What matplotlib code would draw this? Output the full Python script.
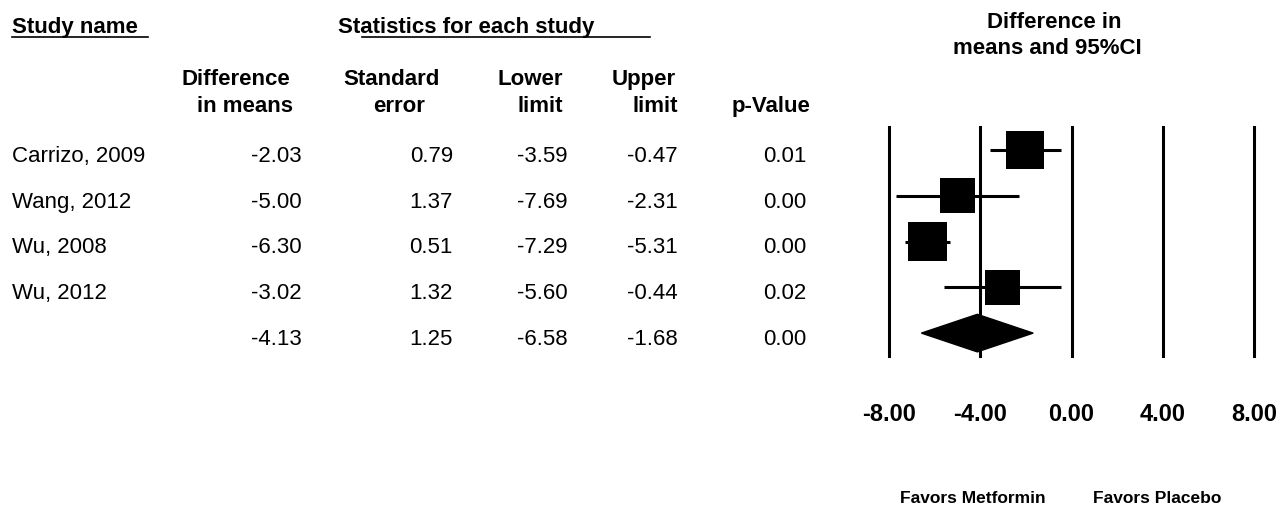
import matplotlib
matplotlib.use("Agg")
import matplotlib.pyplot as plt
import matplotlib.transforms as mtransforms
from matplotlib.lines import Line2D
from matplotlib.patches import Polygon
import numpy as np

plt.rcParams["font.family"] = ["Liberation Sans", "DejaVu Sans"]

# data
studies = ["Carrizo, 2009", "Wang, 2012", "Wu, 2008", "Wu, 2012"]
diff = [-2.03, -5.00, -6.30, -3.02]
se = [0.79, 1.37, 0.51, 1.32]
lower = [-3.59, -7.69, -7.29, -5.60]
upper = [-0.47, -2.31, -5.31, -0.44]
pval = [0.01, 0.00, 0.00, 0.02]

pooled_diff = -4.13
pooled_se = 1.25
pooled_lower = -6.58
pooled_upper = -1.68
pooled_p = 0.00

ticks = [-8, -4, 0, 4, 8]
tick_labels = ["-8.00", "-4.00", "0.00", "4.00", "8.00"]

W, H = 1284, 506


def fx(px):
    return px / W


def fy(py):
    return 1 - py / H


# random effects weights (DerSimonian-Laird) -> box sizes
y = np.array(diff)
v = np.array(se) ** 2
wf = 1 / v
yf = np.sum(wf * y) / np.sum(wf)
Q = np.sum(wf * (y - yf) ** 2)
C = np.sum(wf) - np.sum(wf ** 2) / np.sum(wf)
tau2 = max(0, (Q - (len(y) - 1)) / C)
wr = 1 / (v + tau2)

fig = plt.figure(figsize=(W / 100, H / 100), dpi=100)

ax = fig.add_axes([fx(889), fy(357), fx(1254) - fx(889), fy(128) - fy(357)])
ax.set_xlim(-8, 8)
ax.set_ylim(4.5, -0.5)
for s in ax.spines.values():
    s.set_visible(False)
ax.set_yticks([])
ax.set_xticks(ticks)
ax.set_xticklabels(tick_labels, fontsize=17, fontweight="bold")
ax.tick_params(axis="x", length=0, pad=33)

for t in ticks:
    ax.axvline(t, color="black", lw=2.2, zorder=1, clip_on=False)

rows = np.arange(len(studies))
ax.hlines(rows, lower, upper, color="black", lw=2.2, zorder=2)
ax.scatter(diff, rows, marker="s", s=800 * wr / wr.max(), color="black",
           linewidths=0, zorder=3)

nr = len(studies)
ax.add_patch(Polygon([(pooled_lower, nr), (pooled_diff, nr - 0.41),
                      (pooled_upper, nr), (pooled_diff, nr + 0.41)],
                     closed=True, color="black", zorder=3))

# table
trans = mtransforms.blended_transform_factory(fig.transFigure, ax.transData)
off = 0.24
col_right = [302, 453, 568, 678, 806]
for i, name in enumerate(studies):
    fig.text(fx(12), i + off, name, transform=trans, fontsize=16, va="baseline")
    vals = [diff[i], se[i], lower[i], upper[i], pval[i]]
    for xr, val in zip(col_right, vals):
        fig.text(fx(xr), i + off, f"{val:.2f}", transform=trans, fontsize=16,
                 va="baseline", ha="right")
for xr, val in zip(col_right, [pooled_diff, pooled_se, pooled_lower,
                               pooled_upper, pooled_p]):
    fig.text(fx(xr), nr + off, f"{val:.2f}", transform=trans, fontsize=16,
             va="baseline", ha="right")

# headers
hd = dict(fontsize=16, fontweight="bold", va="baseline")
fig.text(fx(12), fy(33), "Study name", **hd)
fig.add_artist(Line2D([fx(12), fx(148)], [fy(38), fy(38)], color="black", lw=1.2))
fig.text(fx(338), fy(33), "Statistics for each study", **hd)
fig.add_artist(Line2D([fx(362), fx(650)], [fy(38), fy(38)], color="black", lw=1.2))

fig.text(fx(290), fy(85), "Difference", ha="right", **hd)
fig.text(fx(293), fy(112), "in means", ha="right", **hd)
fig.text(fx(392), fy(85), "Standard", ha="center", **hd)
fig.text(fx(399), fy(112), "error", ha="center", **hd)
fig.text(fx(563), fy(85), "Lower", ha="right", **hd)
fig.text(fx(563), fy(112), "limit", ha="right", **hd)
fig.text(fx(676), fy(85), "Upper", ha="right", **hd)
fig.text(fx(678), fy(112), "limit", ha="right", **hd)
fig.text(fx(810), fy(112), "p-Value", ha="right", **hd)

fig.text(fx(1054), fy(28), "Difference in", ha="center", **hd)
fig.text(fx(1047), fy(54), "means and 95%CI", ha="center", **hd)

fig.text(fx(973), fy(499), "Favors Metformin", ha="center", va="center",
         fontsize=12.5, fontweight="bold")
fig.text(fx(1157), fy(499), "Favors Placebo", ha="center", va="center",
         fontsize=12.5, fontweight="bold")

fig.savefig("out.png", dpi=100)
